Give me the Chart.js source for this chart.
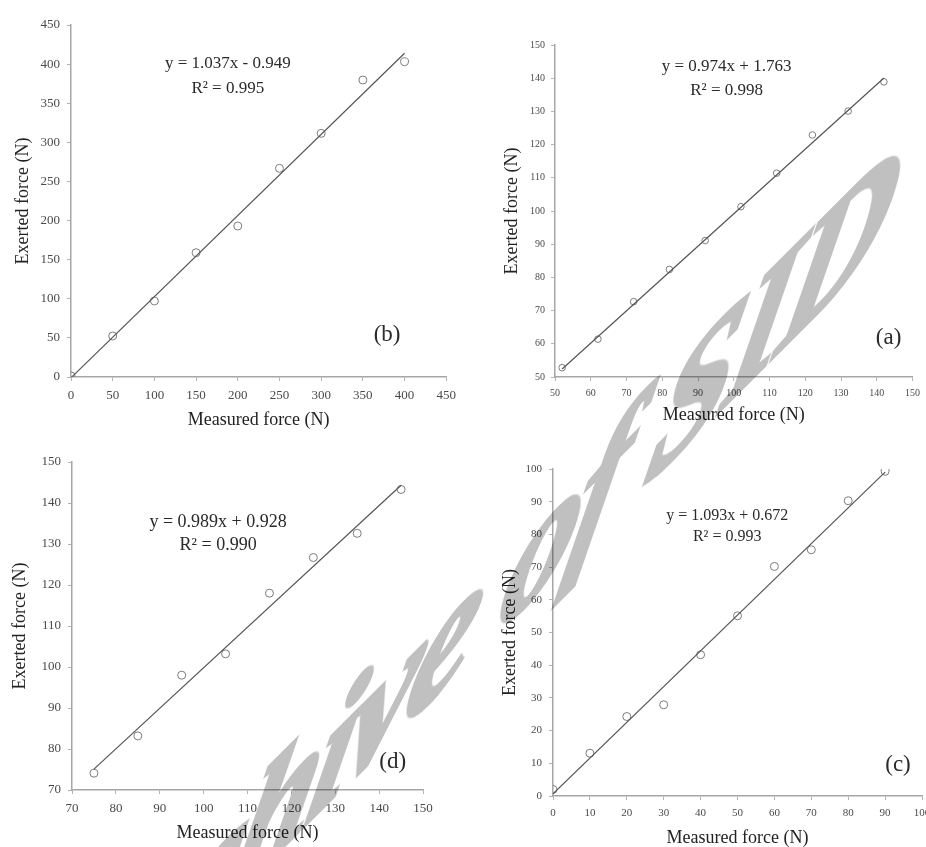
<!DOCTYPE html>
<html>
<head>
<meta charset="utf-8">
<title>Exerted vs measured force</title>
<script src="https://cdn.jsdelivr.net/npm/chart.js@4.4.1/dist/chart.umd.min.js"></script>
<style>
  html, body { margin: 0; padding: 0; }
  body { width: 926px; height: 847px; overflow: hidden; background: #fff; position: relative; }
  canvas { position: absolute; }
  #wm {
    position: absolute; left: 0; top: 0;
    font: italic bold 150px/1 "Liberation Serif", serif;
    letter-spacing: -5px;
    color: #c0c0c0; white-space: nowrap;
    -webkit-text-stroke: 5px #c0c0c0;
    transform-origin: 0 0;
    transform: matrix(1, -1, -0.3, 1.2, 51, 966);
    mix-blend-mode: multiply; pointer-events: none;
  }
</style>
</head>
<body>
<canvas id="pb"></canvas>
<canvas id="pa"></canvas>
<canvas id="pd"></canvas>
<canvas id="pc"></canvas>
<div id="wm">Archive of SID</div>
<script>
// panel (a)
const measuredA = [52, 62, 72, 82, 92, 102, 112, 122, 132, 142];
const exertedA = [52.8, 61.4, 72.7, 82.4, 91.1, 101.3, 111.4, 122.9, 130.1, 138.9];
const fitA = { slope: 0.974, icept: 1.763, r2: '0.998' };

// panel (b)
const measuredB = [0, 50, 100, 150, 200, 250, 300, 350, 400];
const exertedB = [1.5, 52.4, 97.2, 158.9, 193, 266.8, 311.5, 379.7, 403];
const fitB = { slope: 1.037, icept: -0.949, r2: '0.995' };

// panel (c)
const measuredC = [0, 10, 20, 30, 40, 50, 60, 70, 80, 90];
const exertedC = [2, 13.1, 24.3, 27.9, 43.2, 55.1, 70.2, 75.3, 90.3, 99.3];
const fitC = { slope: 1.093, icept: 0.672, r2: '0.993' };

// panel (d)
const measuredD = [75, 85, 95, 105, 115, 125, 135, 145];
const exertedD = [74.1, 83.2, 98, 103.2, 118, 126.7, 132.6, 143.3];
const fitD = { slope: 0.989, icept: 0.928, r2: '0.990' };

// axis ranges [min, max, step]
const rangeA = [50, 150, 10];
const rangeB = [0, 450, 50];
const rangeC = [0, 100, 10];
const rangeD = [70, 150, 10];

const SERIF = '"Liberation Serif", "Times New Roman", serif';
Chart.defaults.font.family = SERIF;

function eqText(f) {
  const sign = f.icept < 0 ? '-' : '+';
  return 'y = ' + f.slope.toFixed(3) + 'x ' + sign + ' ' + Math.abs(f.icept).toFixed(3);
}

// equation, R² and panel tag
const notes = {
  id: 'notes',
  afterDraw(chart, args, o) {
    const { ctx, scales: { x, y } } = chart;
    ctx.save();
    ctx.fillStyle = '#2a2a2a';
    ctx.textAlign = 'center';
    ctx.textBaseline = 'middle';
    ctx.font = o.eqSize + 'px ' + SERIF;
    const ex = x.getPixelForValue(o.eqAt[0]);
    const ey = y.getPixelForValue(o.eqAt[1]);
    ctx.fillText(eqText(o.fit), ex, ey);
    ctx.fillText('R\u00B2 = ' + o.fit.r2, ex, ey + o.gap);
    ctx.font = o.tagSize + 'px ' + SERIF;
    ctx.fillText(o.tag, x.getPixelForValue(o.tagAt[0]), y.getPixelForValue(o.tagAt[1]));
    ctx.restore();
  }
};

function makePanel(p) {
  const cv = document.getElementById(p.id);
  cv.width = p.w; cv.height = p.h;
  cv.style.left = p.left + 'px'; cv.style.top = p.top + 'px';

  const titleSize = 18;
  const lh = titleSize * 1.2;
  const xFirst = p.xs[0], xLast = p.xs[p.xs.length - 1];
  const fitLine = [
    { x: xFirst, y: p.fit.slope * xFirst + p.fit.icept },
    { x: xLast, y: p.fit.slope * xLast + p.fit.icept }
  ];

  const axis = (range, size) => ({
    type: 'linear',
    min: range[0], max: range[1],
    ticks: { stepSize: range[2], color: '#4a4a4a', font: { size: size }, padding: p.tickPad, autoSkip: false, maxRotation: 0 },
    grid: { drawOnChartArea: false, drawTicks: true, tickLength: 4, color: '#b4b4b4' },
    border: { display: true, color: '#a6a6a6', width: 1.5 }
  });

  const xAxis = axis(p.xr, p.tickSize);
  xAxis.position = 'bottom';
  xAxis.afterFit = s => { s.height = p.top + p.h - p.area.b; };
  xAxis.title = { display: true, text: 'Measured force (N)', color: '#222', font: { size: titleSize },
    padding: { top: 0, bottom: p.top + p.h - p.xTitleY - lh / 2 } };

  const yAxis = axis(p.yr, p.tickSize);
  yAxis.position = 'left';
  yAxis.afterFit = s => { s.width = p.area.l - p.left; };
  yAxis.title = { display: true, text: 'Exerted force (N)', color: '#222', font: { size: titleSize },
    padding: { top: p.yTitleX - p.left - lh / 2, bottom: 0 } };

  return new Chart(cv, {
    type: 'scatter',
    data: {
      datasets: [
        {
          type: 'line',
          data: fitLine,
          borderColor: '#555',
          borderWidth: 1.2,
          pointRadius: 0,
          fill: false
        },
        {
          data: p.xs.map((v, i) => ({ x: v, y: p.ys[i] })),
          backgroundColor: 'rgba(255,255,255,0)',
          borderColor: '#7c7c7c',
          borderWidth: 1,
          pointRadius: p.dot,
          pointHoverRadius: p.dot
        }
      ]
    },
    options: {
      responsive: false,
      animation: false,
      devicePixelRatio: 1,
      layout: { padding: { left: 0, top: p.area.t - p.top, right: p.left + p.w - p.area.r, bottom: 0 } },
      plugins: {
        legend: { display: false },
        tooltip: { enabled: false },
        notes: p.notes
      },
      scales: { x: xAxis, y: yAxis }
    },
    plugins: [notes]
  });
}

makePanel({
  id: 'pb', left: 0, top: 0, w: 463, h: 432,
  area: { l: 71, t: 25, r: 447, b: 377 },
  xTitleY: 420, yTitleX: 23, tickSize: 13, tickPad: 7, dot: 4,
  xs: measuredB, ys: exertedB, fit: fitB, xr: rangeB, yr: rangeB,
  notes: { fit: fitB, eqAt: [188, 401], gap: 25, eqSize: 17, tag: '(b)', tagAt: [379, 54], tagSize: 23 }
});

makePanel({
  id: 'pa', left: 470, top: 0, w: 456, h: 432,
  area: { l: 555, t: 45, r: 915, b: 377 },
  xTitleY: 415, yTitleX: 512, tickSize: 10, tickPad: 6, dot: 3.3,
  xs: measuredA, ys: exertedA, fit: fitA, xr: rangeA, yr: rangeA,
  notes: { fit: fitA, eqAt: [98, 143.4], gap: 24, eqSize: 17, tag: '(a)', tagAt: [143.3, 61.7], tagSize: 23 }
});

makePanel({
  id: 'pd', left: 0, top: 440, w: 463, h: 407,
  area: { l: 72, t: 462, r: 423, b: 790 },
  xTitleY: 833, yTitleX: 20, tickSize: 13, tickPad: 7, dot: 4,
  xs: measuredD, ys: exertedD, fit: fitD, xr: rangeD, yr: rangeD,
  notes: { fit: fitD, eqAt: [103.3, 135.4], gap: 23, eqSize: 18, tag: '(d)', tagAt: [143.1, 76.8], tagSize: 23 }
});

makePanel({
  id: 'pc', left: 470, top: 440, w: 476, h: 407,
  area: { l: 553, t: 469, r: 922, b: 796 },
  xTitleY: 838, yTitleX: 510, tickSize: 11, tickPad: 7, dot: 4,
  xs: measuredC, ys: exertedC, fit: fitC, xr: rangeC, yr: rangeC,
  notes: { fit: fitC, eqAt: [47.2, 85.6], gap: 21, eqSize: 16, tag: '(c)', tagAt: [93.5, 9.5], tagSize: 23 }
});
</script>
</body>
</html>
